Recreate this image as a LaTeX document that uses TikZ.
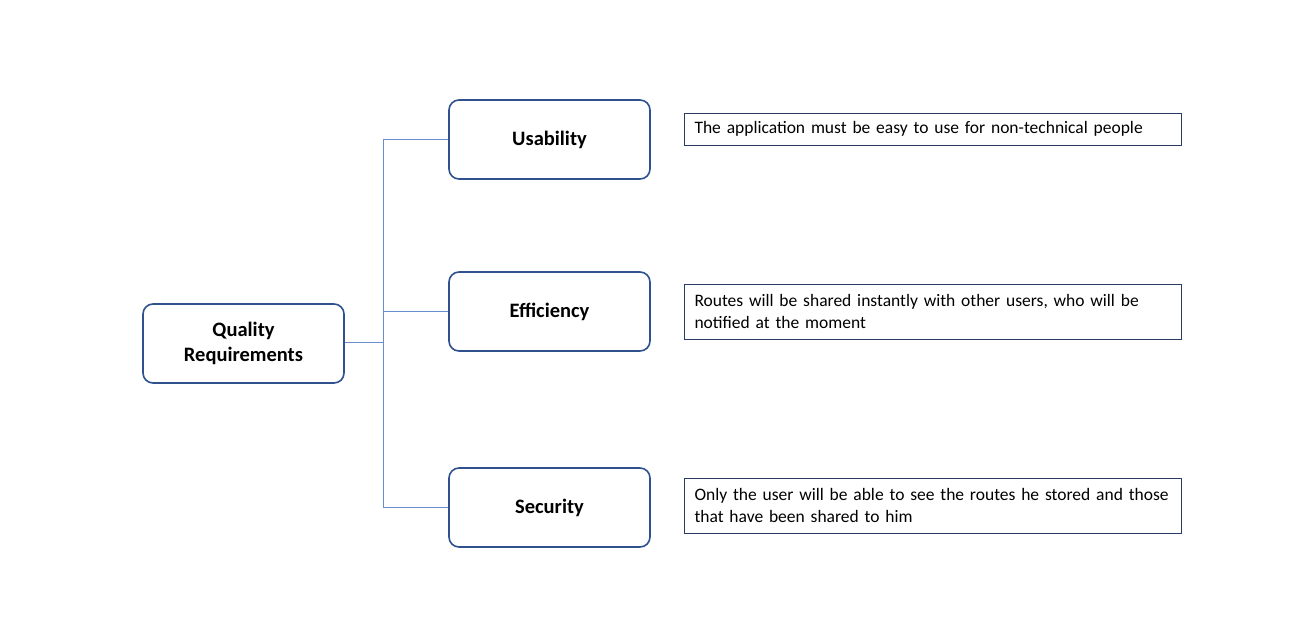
\documentclass[tikz,border=0pt]{standalone}
\usepackage{fontspec}
\setmainfont{Carlito}
\definecolor{boxblue}{RGB}{47,82,143}
\definecolor{linkblue}{RGB}{105,140,205}
\definecolor{noteblue}{RGB}{40,60,100}
\begin{document}
\begin{tikzpicture}[x=1pt,y=-1pt,
  catbox/.style={draw=boxblue,line width=1.6pt,rounded corners=10pt,fill=white,
    minimum width=201pt,minimum height=79pt,align=center,font=\fontsize{20.5}{25}\selectfont\bfseries,inner sep=0pt},
  notebox/.style={draw=noteblue,line width=0.9pt,minimum width=497pt,text width=476pt,
    align=left,inner xsep=10.5pt,inner ysep=0pt,font=\fontsize{17.5}{22}\selectfont},
  link/.style={draw=linkblue,line width=1pt}]
\path[use as bounding box,fill=white] (0,0) rectangle (1297,635);
\node[catbox] (qr) at (243.5,343.5) {Quality\\Requirements};
\node[catbox] (us) at (549.5,139.5) {Usability};
\node[catbox] (ef) at (549.5,311.5) {Efficiency};
\node[catbox] (se) at (549.5,507.5) {Security};
\node[notebox,minimum height=32pt] (n1) at (932.5,129) {The application must be easy to use for non-technical people};
\node[notebox,minimum height=55pt] (n2) at (932.5,311.5) {Routes will be shared instantly with other users, who will be\\notified at the moment};
\node[notebox,minimum height=55pt] (n3) at (932.5,505.5) {Only the user will be able to see the routes he stored and those\\that have been shared to him};
\coordinate (jn) at (383.5,342.5);
\draw[link] (qr.east|-jn) -- (jn);
\draw[link] (jn) |- (us.west);
\draw[link] (jn) |- (ef.west);
\draw[link] (jn) |- (se.west);
\end{tikzpicture}
\end{document}
